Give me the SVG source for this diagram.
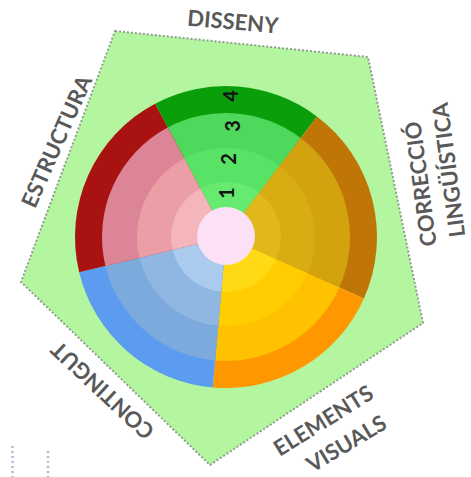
<svg xmlns="http://www.w3.org/2000/svg" width="471" height="477" viewBox="0 0 471 477">
<style>
.lbl{font-family:Lato,"Open Sans","Liberation Sans",sans-serif;font-weight:700;font-size:22px;fill:#595959;text-anchor:middle;dominant-baseline:central}
.num{font-family:Lato,"Open Sans","Liberation Sans",sans-serif;font-weight:700;font-size:20px;fill:#141414;text-anchor:middle;dominant-baseline:central}
.dots{stroke:#a9bcd4;stroke-width:2.5;stroke-dasharray:2 3;fill:none}
</style>
<rect width="471" height="477" fill="#ffffff"/>
<g id="pentagon">
<polygon points="115,31 368,57 423,323 210,465 21,282" fill="#b4f5a0" stroke="#8e9e8e" stroke-width="2" stroke-dasharray="2 2"/>
</g>
<g id="sector-disseny">
<path d="M226,237 L155.11,103.68 A151,151 0 0 1 316.87,116.41 Z" fill="#0b9e0b"/>
<path d="M226,237 L167.78,127.52 A124,124 0 0 1 300.62,137.97 Z" fill="#4fd95c"/>
<path d="M226,237 L184.21,158.42 A89,89 0 0 1 279.56,165.92 Z" fill="#58e266"/>
<path d="M226,237 L200.18,188.44 A55,55 0 0 1 259.10,193.08 Z" fill="#66ea70"/>
</g>
<g id="sector-correccio">
<path d="M226,237 L316.87,116.41 A151,151 0 0 1 363.94,298.41 Z" fill="#bf7606"/>
<path d="M226,237 L300.62,137.97 A124,124 0 0 1 339.27,287.43 Z" fill="#d2a30e"/>
<path d="M226,237 L279.56,165.92 A89,89 0 0 1 307.30,273.20 Z" fill="#d8ad14"/>
<path d="M226,237 L259.10,193.08 A55,55 0 0 1 276.24,259.37 Z" fill="#e0b81c"/>
</g>
<g id="sector-elements">
<path d="M226,237 L363.94,298.41 A151,151 0 0 1 212.83,387.43 Z" fill="#ff9800"/>
<path d="M226,237 L339.27,287.43 A124,124 0 0 1 215.19,360.53 Z" fill="#ffc200"/>
<path d="M226,237 L307.30,273.20 A89,89 0 0 1 218.24,325.66 Z" fill="#ffcd00"/>
<path d="M226,237 L276.24,259.37 A55,55 0 0 1 221.20,291.79 Z" fill="#ffda14"/>
</g>
<g id="sector-contingut">
<path d="M226,237 L212.83,387.43 A151,151 0 0 1 79.17,272.24 Z" fill="#5b9bf0"/>
<path d="M226,237 L215.19,360.53 A124,124 0 0 1 105.42,265.94 Z" fill="#7daadc"/>
<path d="M226,237 L218.24,325.66 A89,89 0 0 1 139.46,257.77 Z" fill="#8fb7e2"/>
<path d="M226,237 L221.20,291.79 A55,55 0 0 1 172.52,249.84 Z" fill="#aacaee"/>
</g>
<g id="sector-estructura">
<path d="M226,237 L79.17,272.24 A151,151 0 0 1 155.11,103.68 Z" fill="#a81210"/>
<path d="M226,237 L105.42,265.94 A124,124 0 0 1 167.78,127.52 Z" fill="#dc8596"/>
<path d="M226,237 L139.46,257.77 A89,89 0 0 1 184.21,158.42 Z" fill="#eb9ea6"/>
<path d="M226,237 L172.52,249.84 A55,55 0 0 1 200.18,188.44 Z" fill="#f4b6ba"/>
</g>
<g id="center">
<circle cx="226" cy="236" r="29" fill="#fbe0f6"/>
</g>
<g id="level-numbers">
<text class="num" transform="translate(225.5,193) rotate(-90)">1</text>
<text class="num" transform="translate(228,159) rotate(-90)">2</text>
<text class="num" transform="translate(232,126) rotate(-90)">3</text>
<text class="num" transform="translate(230,96) rotate(-90)">4</text>
</g>
<g id="labels">
<text class="lbl" transform="translate(233,21) rotate(5)">DISSENY</text>
<text class="lbl" transform="translate(56,141) rotate(-66)">ESTRUCTURA</text>
<text class="lbl" transform="translate(420,184) rotate(-97.5)">CORRECCIÓ</text>
<text class="lbl" transform="translate(448,170) rotate(-97.5)">LINGÜÍSTICA</text>
<text class="lbl" transform="translate(102,391) rotate(-137)">CONTINGUT</text>
<text class="lbl" transform="translate(323,420) rotate(-32)">ELEMENTS</text>
<text class="lbl" transform="translate(346,443) rotate(-31)">VISUALS</text>
</g>
<g id="artifacts">
<line class="dots" x1="12.5" y1="446" x2="12.5" y2="477"/>
<line class="dots" x1="48" y1="451" x2="48" y2="477"/>
</g>
</svg>
